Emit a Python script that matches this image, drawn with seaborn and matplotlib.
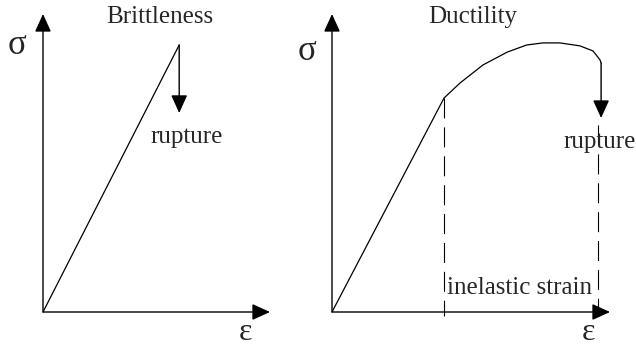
import matplotlib
matplotlib.use("Agg")
import matplotlib.pyplot as plt
import seaborn as sns
import pandas as pd

# Datos (unidades relativas: deformacion / esfuerzo)
fragil_eps = [0.0, 0.60]
fragil_sig = [0.0, 0.896]
fragil_rotura = 0.668

ductil_eps = [0.0, 0.403, 0.46, 0.543, 0.63, 0.70, 0.759, 0.82, 0.892, 0.939, 0.964, 0.968]
ductil_sig = [0.0, 0.718, 0.768, 0.829, 0.872, 0.896, 0.903, 0.903, 0.893, 0.876, 0.846, 0.836]
ductil_rotura = 0.651
inelastica = [0.403, 0.957]   # limites de la deformacion inelastica
inelastica_top = [0.718, 0.628]

sns.set_style("white")
plt.rcParams['font.family'] = ['Liberation Serif', 'DejaVu Serif']

fig = plt.figure(figsize=(6.36, 3.49), dpi=100)
W, H = 636, 349
ax1 = fig.add_axes([43 / W, (H - 312) / H, 227 / W, 298 / H])
ax2 = fig.add_axes([332 / W, (H - 312) / H, 278 / W, 298 / H])

flecha = dict(arrowstyle='-|>,head_length=1.1,head_width=0.5', color='black',
              lw=1, shrinkA=0, shrinkB=0, mutation_scale=10)

for ax in (ax1, ax2):
    ax.set_xlim(0, 1)
    ax.set_ylim(0, 1)
    ax.axis('off')
    # ejes con flecha
    ax.annotate('', xy=(1.0, 0), xytext=(0, 0), arrowprops=flecha, annotation_clip=False)
    ax.annotate('', xy=(0, 1.0), xytext=(0, 0), arrowprops=flecha, annotation_clip=False)

ax1.text(-0.115, 0.895, 'σ', fontsize=25, ha='center', va='center')
ax2.text(-0.09, 0.875, 'σ', fontsize=25, ha='center', va='center')

# Fragilidad
df1 = pd.DataFrame({'eps': fragil_eps, 'sig': fragil_sig})
sns.lineplot(data=df1, x='eps', y='sig', ax=ax1, color='black', lw=0.9, sort=False)
ax1.annotate('', xy=(fragil_eps[-1], fragil_rotura), xytext=(fragil_eps[-1], fragil_sig[-1]),
             arrowprops=flecha)
ax1.text(0.515, 0.99, 'Brittleness', fontsize=18, ha='center', va='center')
ax1.text(0.634, 0.587, 'rupture', fontsize=18, ha='center', va='center')
ax1.text(0.89, -0.07, 'ε', fontsize=23, ha='center', va='center')

# Ductilidad
df2 = pd.DataFrame({'eps': ductil_eps, 'sig': ductil_sig})
sns.lineplot(data=df2, x='eps', y='sig', ax=ax2, color='black', lw=0.9, sort=False)
ax2.annotate('', xy=(ductil_eps[-1], ductil_rotura), xytext=(ductil_eps[-1], ductil_sig[-1]),
             arrowprops=flecha)
for xe, yt in zip(inelastica, inelastica_top):
    ax2.plot([xe, xe], [yt, -0.012], color='black', lw=0.8, dashes=(18, 8), clip_on=False)
ax2.text(0.507, 0.99, 'Ductility', fontsize=18, ha='center', va='center')
ax2.text(0.964, 0.57, 'rupture', fontsize=18, ha='center', va='center')
ax2.text(0.676, 0.08, 'inelastic strain', fontsize=18, ha='center', va='center')
ax2.text(0.921, -0.07, 'ε', fontsize=23, ha='center', va='center')

plt.savefig('out.png', dpi=100)
